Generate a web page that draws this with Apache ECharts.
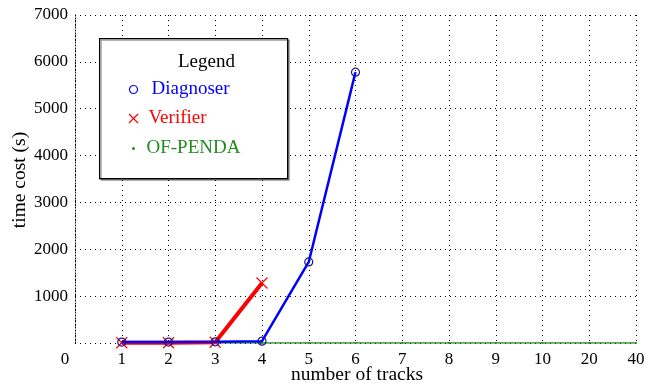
<!DOCTYPE html>
<html>
<head>
<meta charset="utf-8">
<script src="https://cdn.jsdelivr.net/npm/echarts@6/dist/echarts.min.js"></script>
<style>
  html, body { margin: 0; padding: 0; background: #fff; }
  #chart { width: 648px; height: 387px; }
</style>
</head>
<body>
<div id="chart"></div>
<script>
// x categories (number of tracks)
const tracks = ['0', '1', '2', '3', '4', '5', '6', '7', '8', '9', '10', '20', '40']
// time cost (s) per series
const diagnoser = [null, 20, 20, 25, 40, 1730, 5780, null, null, null, null, null, null]
const verifier = [null, 5, 5, 15, 1280, null, null, null, null, null, null, null, null]
const ofPenda = [null, 1, 1, 1, 1, 1, 1, 1, 1, 1, 1, 1, 1]
const yTicks = [0, 1000, 2000, 3000, 4000, 5000, 6000, 7000]

const FONT = '"Liberation Serif", "DejaVu Serif", serif'
const BLUE = '#0000ff'
const NAVY = '#1a1a90'
const RED = '#ff0000'
const GREEN = '#228b22'
const CROSS = 'path://M0,0L10,10M10,0L0,10'
// legend icons drawn inside a 12x12 box so they keep their real size
const RING = 'path://M0,0L0.01,0M12,12L11.99,12M10,6A4,4,0,1,1,2,6A4,4,0,1,1,10,6Z'
const CROSS_ICON = 'path://M0,0L0.01,0M12,12L11.99,12M1.5,1.5L10.5,10.5M10.5,1.5L1.5,10.5'

const chart = echarts.init(document.getElementById('chart'))

chart.setOption({
  animation: false,
  backgroundColor: '#fff',
  grid: { left: 75, right: 12, top: 15, bottom: 44, containLabel: false, outerBoundsMode: 'none' },
  graphic: [
    {
      type: 'rect',
      left: 99, top: 38,
      shape: { width: 188, height: 140 },
      style: { fill: '#fff', stroke: '#000', lineWidth: 1.2, shadowColor: 'rgba(0,0,0,0.4)', shadowOffsetX: 1.5, shadowOffsetY: 1.5 },
      z: 90
    },
    // axis titles
    {
      type: 'text',
      x: 357, y: 375,
      style: { text: 'number of tracks', font: '19.5px ' + FONT, fill: '#000', align: 'center', verticalAlign: 'middle' }
    },
    {
      type: 'text',
      x: 20, y: 180,
      rotation: Math.PI / 2,
      style: { text: 'time cost (s)', font: '19.5px ' + FONT, fill: '#000', align: 'center', verticalAlign: 'middle' }
    }
  ],
  title: {
    text: 'Legend',
    left: 173, top: 48,
    textStyle: { fontFamily: FONT, fontSize: 19, fontWeight: 'normal', color: '#000' },
    z: 100
  },
  legend: {
    orient: 'vertical',
    left: 118, top: 75,
    itemGap: 10,
    itemWidth: 12, itemHeight: 12,
    z: 100,
    textStyle: { fontFamily: FONT, fontSize: 19 },
    data: [
      { name: 'Diagnoser', icon: RING, itemStyle: { color: 'rgba(0,0,0,0)', borderColor: BLUE, borderWidth: 1.2 }, textStyle: { color: BLUE, padding: [0, 0, 0, 7] } },
      { name: 'Verifier', icon: CROSS_ICON, itemStyle: { color: RED, borderColor: RED, borderWidth: 1.2 }, textStyle: { color: RED, padding: [0, 0, 0, 4] } },
      { name: 'OF-PENDA', icon: 'circle', itemStyle: { color: GREEN, borderColor: '#fff', borderWidth: 9 }, textStyle: { color: GREEN, padding: [0, 0, 0, 2] } }
    ]
  },
  xAxis: {
    type: 'category',
    data: tracks,
    boundaryGap: false,
    axisLine: { show: false },
    axisTick: { show: false },
    axisLabel: {
      interval: 0,
      fontFamily: FONT, fontSize: 17, color: '#000', margin: 8,
      formatter: v => v === '0' ? '{z|0}' : v,
      rich: { z: { fontFamily: FONT, fontSize: 17, color: '#000', padding: [0, 20, 0, 0] } }
    },
    splitLine: { show: true, interval: 0, lineStyle: { type: [1, 4], color: '#000', width: 1 } }
  },
  yAxis: {
    type: 'value',
    min: 0, max: 7000, interval: 1000,
    axisLine: { show: true, lineStyle: { type: [1, 2], color: '#000', width: 1 } },
    axisTick: { show: false },
    axisLabel: {
      fontFamily: FONT, fontSize: 17, color: '#000', margin: 7,
      formatter: v => (v === 0 ? '' : (yTicks.includes(v) ? String(v) : ''))
    },
    splitLine: { show: true, lineStyle: { type: [1, 4], color: '#000', width: 1 } }
  },
  series: [
    {
      name: 'OF-PENDA',
      type: 'line',
      data: ofPenda,
      symbol: 'circle',
      symbolSize: 2,
      lineStyle: { color: GREEN, width: 1.5 },
      itemStyle: { color: GREEN },
      z: 2
    },
    {
      name: 'Verifier',
      type: 'line',
      data: verifier,
      symbol: CROSS,
      symbolSize: 11,
      lineStyle: { color: RED, width: 4 },
      itemStyle: { color: RED, borderColor: RED, borderWidth: 1.2 },
      z: 3
    },
    {
      name: 'Diagnoser',
      type: 'line',
      data: diagnoser,
      symbol: 'circle',
      symbolSize: 8,
      lineStyle: { color: BLUE, width: 2.5 },
      itemStyle: { color: 'rgba(0,0,0,0)', borderColor: NAVY, borderWidth: 1.2 },
      z: 4
    }
  ]
})
</script>
</body>
</html>
